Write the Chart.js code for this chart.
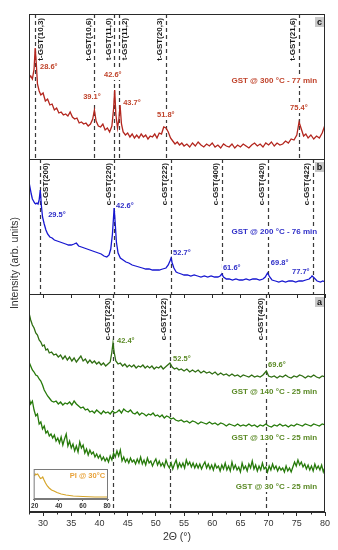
<!DOCTYPE html>
<html>
<head>
<meta charset="utf-8">
<script src="https://cdn.jsdelivr.net/npm/chart.js@4.4.0/dist/chart.umd.min.js"></script>
<style>
  html, body { margin: 0; padding: 0; background: #fff; }
  #wrap { position: relative; width: 338px; height: 550px; }
  #xrd { position: absolute; left: 0; top: 0; }
  #inset { position: absolute; left: 30px; top: 466px; }
</style>
</head>
<body>
<div id="wrap">
  <canvas id="xrd" width="338" height="550"></canvas>
  <canvas id="inset" width="82" height="46"></canvas>
</div>
<script>
// x axis tick labels (2 theta, degrees)
const xTickLabels = [30, 35, 40, 45, 50, 55, 60, 65, 70, 75, 80];
const insetTickLabels = [20, 40, 60, 80];

// GST @ 300 C - 77 min (panel c)
const theta300 = [27.5,27.8,28.1,28.4,28.6,28.8,29.0,29.3,29.6,30.0,
  30.4,30.8,31.2,31.6,32.0,32.4,32.8,33.2,33.6,34.0,
  34.4,34.8,35.2,35.6,36.0,36.4,36.8,37.2,37.6,38.0,
  38.4,38.8,39.1,39.4,39.8,40.2,40.6,41.0,41.4,41.8,
  42.2,42.5,42.7,42.9,43.2,43.45,43.65,43.9,44.2,44.6,
  45.0,45.4,45.8,46.2,46.6,47.0,47.4,47.8,48.2,48.6,
  49.0,49.4,49.8,50.2,50.6,51.0,51.4,51.8,52.2,52.6,
  53.0,53.4,53.8,54.2,54.6,55.0,55.5,56.0,56.5,57.0,
  57.5,58.0,58.5,59.0,59.5,60.0,60.5,61.0,61.5,62.0,
  62.5,63.0,63.5,64.0,64.5,65.0,65.5,66.0,66.5,67.0,
  67.5,68.0,68.5,69.0,69.5,70.0,70.5,71.0,71.5,72.0,
  72.5,73.0,73.5,74.0,74.5,75.0,75.4,75.8,76.2,76.6,
  77.0,77.5,78.0,78.5,79.0,79.5,80.0];
const int300 = [81,83,80,90,111,95,75,68,64,66,
  58,60,54,55,49,51,46,47,44,45,
  43,47,42,40,41,36,37,35,36,33,
  35,40,49,38,33,32,35,29,31,27,
  33,50,69,45,31,40,54,35,27,24,
  26,22,25,21,24,21,25,22,24,20,
  23,22,25,21,26,25,32,31,27,21,
  18,15,17,14,16,13,15,12,16,13,
  17,14,12,15,13,16,12,14,11,15,
  13,12,15,11,14,12,15,13,11,14,
  16,13,15,12,16,14,17,13,16,14,
  15,18,16,20,19,24,37,30,23,25,
  21,24,20,23,21,26,34];

// GST @ 200 C - 76 min (panel b)
const theta200 = [27.5,27.7,27.9,28.1,28.3,28.5,28.7,28.9,29.1,29.3,
  29.5,29.7,29.9,30.2,30.5,30.8,31.2,31.6,32.0,32.5,
  33.0,33.5,34.0,34.5,35.0,35.5,35.9,36.3,36.8,37.3,
  37.8,38.3,38.8,39.3,39.8,40.3,40.8,41.3,41.7,42.0,
  42.3,42.6,42.8,43.0,43.3,43.7,44.2,44.7,45.2,45.8,
  46.4,47.0,47.6,48.2,48.8,49.4,50.0,50.6,51.2,51.8,
  52.2,52.5,52.7,52.9,53.2,53.6,54.0,54.5,55.0,55.6,
  56.2,56.8,57.4,58.0,58.6,59.2,59.8,60.4,61.0,61.4,
  61.7,62.0,62.5,63.0,63.6,64.2,64.8,65.4,66.0,66.6,
  67.2,67.8,68.4,69.0,69.4,69.8,70.2,70.6,71.2,71.8,
  72.4,73.0,73.6,74.2,74.8,75.4,76.0,76.6,77.2,77.7,
  78.1,78.6,79.2,79.6,80.0];
const int200 = [112,106,100,95,93,91,90,91,90,94,
  104,88,77,70,64,60,57,56,54,53,
  52,51,50,49,49,50,51,48,47,46,
  45,44,43,42,41,40,38,37,39,45,
  60,86,70,52,41,36,34,32,31,29,
  28,27,26,25,25,24,24,24,25,26,
  29,33,36,31,26,22,21,20,19,19,
  18,19,18,17,18,17,18,17,17,18,
  20,17,15,15,14,15,14,14,15,14,
  15,15,14,15,17,21,17,14,13,12,
  13,12,13,13,12,13,13,14,15,18,
  16,13,12,13,12];

// GST @ 140 C - 25 min (panel a)
const theta140 = [27.5,27.8,28.1,28.4,28.7,29.0,29.3,29.6,29.9,30.2,
  30.5,30.8,31.1,31.5,31.9,32.3,32.7,33.1,33.5,33.9,
  34.3,34.7,35.1,35.5,35.9,36.3,36.7,37.1,37.5,37.9,
  38.3,38.7,39.1,39.5,39.9,40.3,40.7,41.1,41.5,41.9,
  42.2,42.4,42.6,42.9,43.3,43.7,44.1,44.5,44.9,45.3,
  45.7,46.1,46.5,46.9,47.3,47.7,48.1,48.5,48.9,49.3,
  49.7,50.1,50.5,50.9,51.3,51.7,52.1,52.5,52.9,53.3,
  53.7,54.1,54.5,55.0,55.5,56.0,56.5,57.0,57.5,58.0,
  58.5,59.0,59.5,60.0,60.5,61.0,61.5,62.0,62.5,63.0,
  63.5,64.0,64.5,65.0,65.5,66.0,66.5,67.0,67.5,68.0,
  68.5,69.0,69.6,70.0,70.5,71.0,71.5,72.0,72.5,73.0,
  73.5,74.0,74.5,75.0,75.5,76.0,76.5,77.0,77.5,78.0,
  78.5,79.0,79.5,80.0];
const int140 = [199,192,187,184,179,177,172,170,166,167,
  162,163,159,160,157,158,155,157,153,156,
  152,155,151,154,150,153,156,151,153,149,
  152,149,151,148,150,147,149,146,148,150,
  160,169,160,151,148,149,146,148,145,147,
  145,147,144,146,145,147,144,146,144,146,
  143,145,144,146,143,145,147,149,145,143,
  144,142,143,141,143,140,142,140,142,139,
  141,139,140,138,140,137,139,137,138,136,
  138,136,137,135,137,136,135,137,135,136,
  135,137,141,136,135,136,134,136,135,137,
  135,134,136,135,137,136,134,136,135,137,
  135,134,136,135];

// GST @ 130 C - 25 min (panel a)
const theta130 = [27.5,27.8,28.1,28.4,28.7,29.0,29.3,29.6,29.9,30.2,
  30.5,30.8,31.1,31.5,31.9,32.3,32.7,33.1,33.5,33.9,
  34.3,34.7,35.1,35.5,35.9,36.3,36.7,37.1,37.5,37.9,
  38.3,38.7,39.1,39.5,39.9,40.3,40.7,41.1,41.5,41.9,
  42.3,42.7,43.1,43.5,43.9,44.3,44.7,45.1,45.5,45.9,
  46.3,46.7,47.1,47.5,47.9,48.3,48.7,49.1,49.5,49.9,
  50.3,50.7,51.1,51.5,51.9,52.3,52.7,53.1,53.5,54.0,
  54.5,55.0,55.5,56.0,56.5,57.0,57.5,58.0,58.5,59.0,
  59.5,60.0,60.5,61.0,61.5,62.0,62.5,63.0,63.5,64.0,
  64.5,65.0,65.5,66.0,66.5,67.0,67.5,68.0,68.5,69.0,
  69.5,70.0,70.5,71.0,71.5,72.0,72.5,73.0,73.5,74.0,
  74.5,75.0,75.5,76.0,76.5,77.0,77.5,78.0,78.5,79.0,
  79.5,80.0];
const int130 = [150,146,142,140,137,136,133,131,127,122,
  119,116,114,111,110,111,108,110,107,109,
  108,110,107,111,108,106,104,105,102,103,
  100,101,99,102,100,98,101,99,100,98,
  101,99,100,102,99,103,101,100,102,99,
  98,100,97,99,98,96,98,97,99,96,
  97,95,97,94,96,95,93,94,92,91,
  92,90,91,89,91,90,88,90,89,88,
  90,88,89,87,89,88,86,88,87,86,
  88,86,87,86,88,86,87,85,87,86,
  88,86,85,87,86,88,86,87,85,87,
  86,88,87,86,88,87,86,88,87,86,
  88,87];

// GST @ 30 C - 25 min (panel a)
const theta30 = [27.5,27.8,28.1,28.4,28.7,29.0,29.3,29.6,29.9,30.2,
  30.5,30.8,31.1,31.4,31.7,32.0,32.3,32.6,32.9,33.2,
  33.5,33.8,34.1,34.4,34.7,35.0,35.3,35.6,35.9,36.2,
  36.5,36.8,37.1,37.4,37.7,38.0,38.3,38.6,38.9,39.2,
  39.5,39.8,40.1,40.4,40.7,41.0,41.3,41.6,41.9,42.2,
  42.5,42.8,43.1,43.4,43.7,44.0,44.3,44.6,44.9,45.2,
  45.5,45.8,46.1,46.4,46.7,47.0,47.3,47.6,47.9,48.2,
  48.5,48.8,49.1,49.4,49.7,50.0,50.3,50.6,50.9,51.2,
  51.5,51.8,52.1,52.4,52.7,53.0,53.3,53.6,53.9,54.2,
  54.5,54.8,55.1,55.4,55.7,56.0,56.3,56.6,56.9,57.2,
  57.5,57.8,58.1,58.4,58.7,59.0,59.3,59.6,59.9,60.2,
  60.5,60.8,61.1,61.4,61.7,62.0,62.3,62.6,62.9,63.2,
  63.5,63.8,64.1,64.4,64.7,65.0,65.3,65.6,65.9,66.2,
  66.5,66.8,67.1,67.4,67.7,68.0,68.3,68.6,68.9,69.2,
  69.5,69.8,70.1,70.4,70.7,71.0,71.3,71.6,71.9,72.2,
  72.5,72.8,73.1,73.4,73.7,74.0,74.3,74.6,74.9,75.2,
  75.5,75.8,76.1,76.4,76.7,77.0,77.3,77.6,77.9,78.2,
  78.5,78.8,79.1,79.4,79.7,80.0];
const int30 = [114,108,111,102,96,98,88,90,83,86,
  79,81,76,78,74,77,71,74,69,75,
  67,73,78,66,71,64,68,61,66,60,
  70,64,67,59,63,57,62,58,60,55,
  58,54,57,52,55,51,54,50,56,52,
  59,55,61,56,62,51,55,50,53,49,
  54,50,52,48,53,49,55,48,52,47,
  54,49,51,46,50,53,47,51,46,49,
  45,52,47,44,49,43,48,52,44,49,
  45,49,44,52,47,50,45,49,44,48,
  44,48,43,47,50,44,48,43,47,42,
  48,44,46,41,47,43,49,42,46,41,
  50,43,47,42,45,40,49,43,46,41,
  48,44,51,43,47,41,46,42,49,43,
  45,40,46,42,48,43,46,41,45,42,
  44,40,46,41,44,40,45,50,46,52,
  47,50,45,48,43,47,42,46,41,48,
  43,46,42,47,40,45];

// PI @ 30 C (inset)
const thetaPI = [20,20.5,21.5,22.5,23.5,24.8,25.8,26.7,27.8,29,30.5,32,34,36,38.5,42,46,52,60,70,80];
const intPI = [23,25,24.5,25,23,20.5,21,22,19,16,13,11,9,8,6.5,5,4,3,2.5,2,2];

// reference reflections per panel
const refs300 = [28.6, 39.05, 42.6, 43.55, 51.75, 75.3];
const names300 = ['t-GST(10,3)', 't-GST(10,6)', 't-GST(11,0)', 't-GST(11,2)', 't-GST(20,3)', 't-GST(21,6)'];
const refs200 = [29.5, 42.6, 52.65, 61.65, 69.85, 77.8];
const names200 = ['c-GST(200)', 'c-GST(220)', 'c-GST(222)', 'c-GST(400)', 'c-GST(420)', 'c-GST(422)'];
const refsLow = [42.45, 52.5, 69.55];
const namesLow = ['c-GST(220)', 'c-GST(222)', 'c-GST(420)'];

const FONT = "'Liberation Sans', Arial, sans-serif";
const pts = (xs, ys) => xs.map((x, i) => ({ x: x, y: ys[i] }));

// annotation layout for each panel (label side: r = right of line)
const panels = [
  { axis: 'yC', letter: 'c', refs: refs300, names: names300, sides: ['r','l','l','r','l','l'], color: '#c0442c',
    notes: [
      { t: '28.6°', x: 29.45, y: 92 }, { t: '39.1°', x: 37.1, y: 62 }, { t: '42.6°', x: 40.8, y: 84 },
      { t: '43.7°', x: 44.2, y: 56 }, { t: '51.8°', x: 50.2, y: 44 }, { t: '75.4°', x: 73.8, y: 51 },
      { t: 'GST @ 300 °C - 77 min', x: 78.6, y: 78, big: true }
    ] },
  { axis: 'yB', letter: 'b', refs: refs200, names: names200, sides: ['r','l','l','l','l','l'], color: '#3030c8',
    notes: [
      { t: '29.5°', x: 30.9, y: 79 }, { t: '42.6°', x: 42.95, y: 88 }, { t: '52.7°', x: 53.05, y: 41 },
      { t: '61.6°', x: 61.9, y: 26 }, { t: '69.8°', x: 70.4, y: 31 }, { t: '77.7°', x: 74.15, y: 22 },
      { t: 'GST @ 200 °C - 76 min', x: 78.6, y: 62, big: true }
    ] },
  { axis: 'yA', letter: 'a', refs: refsLow, names: namesLow, sides: ['l','l','l'], color: '#5b8a26',
    notes: [
      { t: '42.4°', x: 43.1, y: 171 }, { t: '52.5°', x: 53.05, y: 153 }, { t: '69.6°', x: 69.9, y: 147 },
      { t: 'GST @ 140 °C - 25 min', x: 78.6, y: 120, big: true },
      { t: 'GST @ 130 °C - 25 min', x: 78.6, y: 74, big: true },
      { t: 'GST @ 30 °C - 25 min', x: 78.6, y: 25, big: true }
    ] }
];

const panelDecor = {
  id: 'panelDecor',
  beforeDatasetsDraw(chart) {
    const { ctx, scales } = chart;
    const xs = scales.x;
    ctx.save();
    ctx.strokeStyle = '#3a3a3a';
    ctx.lineWidth = 1.2;
    ctx.setLineDash([4, 3]);
    panels.forEach(p => {
      const ys = scales[p.axis];
      p.refs.forEach(v => {
        const px = Math.round(xs.getPixelForValue(v)) + 0.5;
        ctx.beginPath();
        ctx.moveTo(px, ys.top);
        ctx.lineTo(px, ys.bottom);
        ctx.stroke();
      });
    });
    ctx.restore();
  },
  afterDatasetsDraw(chart) {
    const { ctx, chartArea: ca, scales } = chart;
    const xs = scales.x;
    ctx.save();
    // frame and panel separators
    ctx.strokeStyle = '#2a2a2a';
    ctx.lineWidth = 1;
    ctx.strokeRect(ca.left + 0.5, ca.top + 0.5, ca.right - ca.left - 1, ca.bottom - ca.top - 1);
    ['yA', 'yB'].forEach(id => {
      const y = Math.round(scales[id].top) + 0.5;
      ctx.beginPath(); ctx.moveTo(ca.left, y); ctx.lineTo(ca.right, y); ctx.stroke();
    });
    // small ticks under the a/b separator
    const yt = Math.round(scales.yA.top);
    xTickLabels.forEach(v => {
      const px = Math.round(xs.getPixelForValue(v)) + 0.5;
      ctx.beginPath(); ctx.moveTo(px, yt); ctx.lineTo(px, yt + 4); ctx.stroke();
    });
    // minor ticks on the bottom axis
    xTickLabels.forEach(v => {
      const px = Math.round(xs.getPixelForValue(v - 2.5)) + 0.5;
      ctx.beginPath(); ctx.moveTo(px, ca.bottom); ctx.lineTo(px, ca.bottom + 2.5); ctx.stroke();
    });

    panels.forEach(p => {
      const ys = scales[p.axis];
      // rotated reflection labels
      ctx.fillStyle = '#1a1a1a';
      ctx.font = 'bold 8px ' + FONT;
      ctx.textAlign = 'right';
      p.refs.forEach((v, i) => {
        const px = xs.getPixelForValue(v);
        const right = p.sides[i] === 'r';
        ctx.save();
        ctx.translate(right ? px + 7.5 : px - 3.5, ys.top + 4);
        ctx.rotate(-Math.PI / 2);
        ctx.textBaseline = 'alphabetic';
        ctx.fillText(p.names[i], 0, 0);
        ctx.restore();
      });
      // peak and condition labels on a white backing
      ctx.textBaseline = 'middle';
      p.notes.forEach(n => {
        ctx.font = (n.big ? 'bold 8px ' : 'bold 7.5px ') + FONT;
        ctx.textAlign = n.big ? 'right' : 'left';
        const px = xs.getPixelForValue(n.x), py = ys.getPixelForValue(n.y);
        const w = ctx.measureText(n.t).width;
        ctx.fillStyle = '#fff';
        ctx.fillRect(n.big ? px - w - 1 : px - 1, py - 5, w + 2, 10);
        ctx.fillStyle = p.color;
        ctx.fillText(n.t, px, py);
      });
      // panel letter box
      const bx = ca.right - 10, by = ys.top + 3;
      ctx.fillStyle = '#c9c9c9';
      ctx.fillRect(bx, by, 9, 10);
      ctx.fillStyle = '#111';
      ctx.font = 'bold 9px ' + FONT;
      ctx.textAlign = 'center';
      ctx.fillText(p.letter, bx + 4.5, by + 5.5);
    });

    // y axis title spanning all panels
    ctx.translate(15, (ca.top + ca.bottom) / 2);
    ctx.rotate(-Math.PI / 2);
    ctx.fillStyle = '#333';
    ctx.font = '10.5px ' + FONT;
    ctx.textAlign = 'center';
    ctx.textBaseline = 'middle';
    ctx.fillText('Intensity (arb. units)', 0, 0);
    ctx.restore();
  }
};

const hiddenY = (weight, max) => ({
  type: 'linear', position: 'left', stack: 'panels', stackWeight: weight,
  min: 0, max: max,
  ticks: { display: false },
  grid: { display: false, drawTicks: false },
  border: { display: false },
  afterFit: s => { s.width = 0; }
});

const line = (data, axis, color) => ({
  data: data, yAxisID: axis, borderColor: color, borderWidth: 1.3,
  pointRadius: 0, tension: 0, fill: false
});

new Chart(document.getElementById('xrd'), {
  type: 'line',
  data: {
    datasets: [
      line(pts(theta30, int30), 'yA', '#267a0a'),
      line(pts(theta130, int130), 'yA', '#267a0a'),
      line(pts(theta140, int140), 'yA', '#2f6e12'),
      line(pts(theta200, int200), 'yB', '#1717d0'),
      line(pts(theta300, int300), 'yC', '#b3261e')
    ]
  },
  options: {
    responsive: false,
    animation: false,
    events: [],
    layout: { padding: { left: 29, right: 13, top: 14, bottom: 0 } },
    plugins: { legend: { display: false }, tooltip: { enabled: false } },
    scales: {
      x: {
        type: 'linear', position: 'bottom', min: 27.5, max: 80,
        afterBuildTicks: s => { s.ticks = xTickLabels.map(v => ({ value: v })); },
        ticks: { autoSkip: false, maxRotation: 0, padding: 2, color: '#333', font: { family: FONT, size: 9 } },
        grid: { display: true, drawOnChartArea: false, drawTicks: true, tickLength: 4, tickColor: '#2a2a2a' },
        border: { display: true, color: '#2a2a2a' },
        title: { display: true, text: '2Θ (°)', color: '#333', font: { family: FONT, size: 10.5 }, padding: { top: 0, bottom: 6.5 } },
        afterFit: s => { s.height = 38; }
      },
      yA: hiddenY(218, 218),
      yB: hiddenY(135, 135),
      yC: hiddenY(145, 145)
    }
  },
  plugins: [panelDecor]
});

const insetDecor = {
  id: 'insetDecor',
  afterDatasetsDraw(chart) {
    const { ctx, chartArea: ca, scales } = chart;
    ctx.save();
    ctx.strokeStyle = '#7a7a7a';
    ctx.lineWidth = 1;
    ctx.strokeRect(ca.left + 0.5, ca.top + 0.5, ca.right - ca.left - 1, ca.bottom - ca.top - 1);
    ctx.fillStyle = '#e8a23a';
    ctx.font = 'bold 7.5px ' + FONT;
    ctx.textAlign = 'right';
    ctx.textBaseline = 'middle';
    ctx.fillText('PI @ 30°C', scales.x.getPixelForValue(78.4), scales.y.getPixelForValue(23));
    ctx.restore();
  }
};

new Chart(document.getElementById('inset'), {
  type: 'line',
  data: {
    datasets: [{ data: pts(thetaPI, intPI), borderColor: '#d6a52a', borderWidth: 1.2, pointRadius: 0, tension: 0 }]
  },
  options: {
    responsive: false,
    animation: false,
    events: [],
    layout: { padding: { left: 3, right: 4, top: 3, bottom: 0 } },
    plugins: { legend: { display: false }, tooltip: { enabled: false } },
    scales: {
      x: {
        type: 'linear', min: 19.18, max: 80.82,
        afterBuildTicks: s => { s.ticks = insetTickLabels.map(v => ({ value: v })); },
        ticks: { autoSkip: false, maxRotation: 0, padding: 1, color: '#333', font: { family: FONT, size: 6.5, weight: 'bold' } },
        grid: { display: true, drawOnChartArea: false, tickLength: 2, tickColor: '#555' },
        border: { color: '#7a7a7a' },
        afterFit: s => { s.height = 13; }
      },
      y: { display: false, min: 0, max: 30 }
    }
  },
  plugins: [insetDecor]
});
</script>
</body>
</html>
